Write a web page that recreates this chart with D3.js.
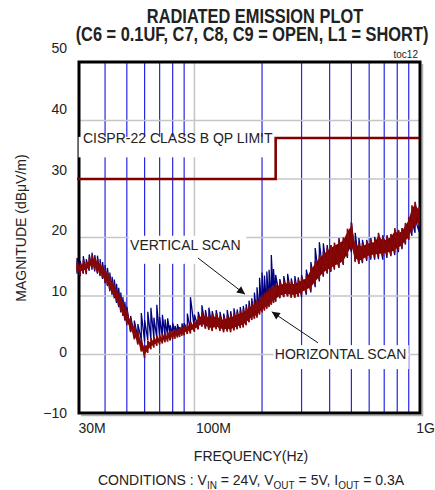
<!DOCTYPE html>
<html>
<head>
<meta charset="utf-8">
<script src="https://cdn.jsdelivr.net/npm/d3@7"></script>
<style>
  body { margin: 0; background: #fff; }
  svg text { font-family: "Liberation Sans", Arial, sans-serif; fill: #222; }
</style>
</head>
<body>
<svg id="chart"></svg>
<script>
// frequency points (MHz) of the two scans
var freqMHz = [30,31,32,33,34,35,36,37,38,39,40,41,42,43,44,45,46,47,48,49,50,52,54,56,58,60,62,64,66,68,70,72,74,76,78,80,82,84,86,88,90,93,96,100,104,108,112,116,120,125,130,135,140,145,150,155,160,165,170,175,180,185,190,195,200,205,210,215,220,225,230,240,250,260,270,280,290,300,315,330,345,360,375,390,405,420,440,460,480,500,520,540,560,585,610,635,660,690,720,750,780,810,840,870,900,930,960,1000];

// horizontal scan, lower / upper edge of the noisy trace (dBuV/m)
var horizLow = [14.2,13.6,14.0,13.9,14.6,14.8,14.5,14.0,13.6,13.1,12.4,11.9,11.0,10.4,9.8,9.0,8.3,7.4,6.8,6.0,5.2,3.9,2.6,1.7,0.5,-0.6,0.3,0.9,1.2,1.5,1.7,1.9,2.1,2.2,2.4,2.6,2.7,2.9,3.0,3.2,3.3,3.5,3.6,3.9,4.3,4.8,4.4,4.2,4.0,4.3,4.0,3.8,3.9,3.8,4.1,4.3,4.5,4.6,5.0,5.5,5.9,6.1,6.3,6.8,7.2,7.5,7.8,8.1,8.5,8.8,9.0,9.6,9.8,9.9,9.7,9.7,9.9,10.2,10.6,11.0,12.0,12.8,13.5,14.0,14.3,14.7,15.0,15.5,16.8,18.0,16.0,15.5,15.8,16.3,16.5,16.6,16.7,16.8,17.0,17.0,17.4,17.8,18.2,19.0,19.6,21.0,21.8,22.0];
var horizHigh = [15.9,15.5,16.1,15.8,16.6,17.0,16.6,16.3,15.6,15.2,14.6,14.1,13.2,12.4,11.9,11.2,10.6,9.9,9.1,8.3,7.6,6.2,5.0,3.9,2.7,1.6,2.4,2.8,3.0,3.2,3.3,3.5,3.6,3.8,4.0,4.1,4.3,4.4,4.6,4.7,4.9,5.2,5.6,5.7,6.6,7.2,7.0,6.8,6.9,7.0,6.6,6.4,6.7,6.9,7.0,7.3,7.5,7.7,8.0,8.5,8.8,9.1,9.3,9.8,10.2,10.6,10.9,11.3,11.6,11.9,12.1,12.4,12.6,12.7,12.5,12.6,12.8,13.2,13.5,15.0,16.0,17.0,17.6,18.2,18.7,19.1,19.5,20.0,21.5,22.5,19.3,19.0,19.0,19.4,19.6,19.7,20.8,20.0,20.2,20.6,21.6,21.2,21.6,22.5,23.5,25.5,26.1,25.2];

// vertical scan, lower / upper edge
var vertLow = [13.8,13.4,13.8,13.7,14.3,14.5,14.2,13.8,13.4,12.9,12.2,11.7,10.8,10.2,9.6,8.8,8.1,7.2,6.6,5.8,5.0,3.8,3.0,2.8,2.5,2.2,2.5,2.6,2.7,2.8,2.9,3.0,3.1,3.2,3.3,3.4,3.5,3.6,3.7,3.8,3.9,4.0,4.1,4.3,4.6,4.8,4.6,4.5,4.4,4.5,4.3,4.1,4.2,4.1,4.3,4.5,4.7,4.8,5.1,5.6,6.0,6.3,6.5,7.0,7.4,7.7,8.0,8.3,8.6,8.9,9.1,9.7,9.9,10.0,9.9,9.8,9.9,9.8,10.2,10.6,11.5,12.5,13.3,13.8,14.1,14.5,14.8,15.3,16.5,17.5,15.8,15.5,15.6,16.0,16.2,16.2,16.3,16.2,16.5,16.8,17.0,17.5,18.0,18.8,19.6,20.3,20.8,21.0];
var vertHigh = [16.5,16.0,16.8,16.3,17.1,17.4,17.0,16.9,16.3,15.8,15.3,14.8,14.0,13.3,12.8,12.1,11.4,10.6,9.8,9.0,8.2,6.6,5.8,5.2,7.1,5.9,7.3,8.0,6.3,8.5,6.4,6.8,6.0,6.2,5.0,5.4,4.9,5.2,4.7,5.3,5.4,7.0,9.8,6.8,7.3,8.4,7.6,8.0,7.4,7.6,7.3,7.0,7.6,7.4,7.9,7.7,8.1,8.3,8.6,9.2,9.6,10.6,11.5,13.1,14.0,13.5,14.2,14.5,17.0,14.6,13.6,12.9,13.4,13.8,13.0,13.4,13.2,13.6,14.5,15.8,18.2,19.2,19.0,18.7,18.7,18.4,19.9,19.6,20.5,22.6,20.8,19.9,19.6,19.6,19.9,20.1,20.3,20.4,20.4,20.4,20.8,21.3,21.6,22.2,22.6,23.0,23.3,22.5];

// CISPR-22 class B quasi-peak limit
var limitFreq = [30, 230, 230, 1000];
var limitDb = [30, 30, 37, 37];

// grid
var blueGridFreq = [40,50,60,70,80,90,200,300,400,500,600,700,800,900];
var grayGridFreq = [100];
var grayGridDb = [0, 10, 20, 30, 40];
var yTicks = [-10, 0, 10, 20, 30, 40, 50];
var xTicks = [30, 100, 1000];
var xTickText = ['30M', '100M', '1G'];

var W = 435, H = 490;
var svg = d3.select('#chart').attr('width', W).attr('height', H);

var x = d3.scaleLog().domain([30, 1000]).range([77, 419]);
var y = d3.scaleLinear().domain([-10, 50]).range([413, 62]);
// tick labels in the scan sit on a slightly taller ladder than the grid
var yLab = d3.scaleLinear().domain([-10, 50]).range([413, 48]);

var plot = { left: 79, right: 420, top: 62, bottom: 413 };

// vertical blue lines
svg.append('g').selectAll('line').data(blueGridFreq).enter().append('line')
  .attr('x1', d => x(d)).attr('x2', d => x(d))
  .attr('y1', plot.top).attr('y2', plot.bottom)
  .attr('stroke', '#2626e6').attr('stroke-width', 1.2);

// gray grid
var gg = svg.append('g').attr('stroke', '#c6c6c6').attr('stroke-width', 1.6);
gg.selectAll('.h').data(grayGridDb).enter().append('line')
  .attr('x1', plot.left).attr('x2', plot.right)
  .attr('y1', d => y(d)).attr('y2', d => y(d));
gg.selectAll('.v').data(grayGridFreq).enter().append('line')
  .attr('x1', d => x(d)).attr('x2', d => x(d))
  .attr('y1', plot.top).attr('y2', plot.bottom);

// frame with light shadow
svg.append('path')
  .attr('d', 'M' + (plot.right + 2.5) + ',' + (plot.top + 2) + 'V' + (plot.bottom + 2.5) + 'H' + (plot.left + 2))
  .attr('fill', 'none').attr('stroke', '#b0b0b0').attr('stroke-width', 1.5);
svg.append('rect')
  .attr('x', plot.left).attr('y', plot.top)
  .attr('width', plot.right - plot.left).attr('height', plot.bottom - plot.top)
  .attr('fill', 'none').attr('stroke', '#000').attr('stroke-width', 3);

// white label boxes that cut the grid
function box(f0, f1, d0, d1) {
  svg.append('rect')
    .attr('x', x(f0)).attr('y', y(d1))
    .attr('width', x(f1) - x(f0)).attr('height', y(d0) - y(d1))
    .attr('fill', '#fff');
}
box(30.5, 226, 33.7, 37.2);
box(51, 170, 15.5, 20.3);
box(225, 900, -2.5, 1.6);

// limit line
var limitData = limitFreq.map((f, i) => ({ f: f, v: limitDb[i] }));
svg.append('path').datum(limitData)
  .attr('d', d3.line().x(d => x(d.f)).y(d => y(d.v)))
  .attr('fill', 'none').attr('stroke', '#800000').attr('stroke-width', 2.6);

// scans: each sweep is drawn as a dense trace jumping between its low and high edge
function zigzag(lo, hi) {
  var pts = [];
  freqMHz.forEach(function(f, i) {
    pts.push({ f: f, v: lo[i] });
    pts.push({ f: f, v: hi[i] });
  });
  return pts;
}
function band(lo, hi) {
  return freqMHz.map((f, i) => ({ f: f, lo: lo[i], hi: hi[i] }));
}
var trace = d3.line().x(d => x(d.f)).y(d => y(d.v));
var area = d3.area().x(d => x(d.f)).y0(d => y(d.lo)).y1(d => y(d.hi));

svg.append('path').datum(zigzag(vertLow, vertHigh))
  .attr('d', trace).attr('fill', 'none')
  .attr('stroke', '#000080').attr('stroke-width', 1.3);

// horizontal scan sits on top
var hLo = horizLow.map(v => v + 0.5), hHi = horizHigh.map(v => v - 0.5);
svg.append('path').datum(band(hLo, hHi))
  .attr('d', area).attr('fill', '#800000');
svg.append('path').datum(zigzag(horizLow, horizHigh))
  .attr('d', trace).attr('fill', 'none')
  .attr('stroke', '#850808').attr('stroke-width', 1.6);

// annotations
svg.append('text').attr('x', x(31.9)).attr('y', y(36.1))
  .attr('font-size', 14).text('CISPR-22 CLASS B QP LIMIT');
svg.append('text').attr('x', x(51.7)).attr('y', y(17.9))
  .attr('font-size', 14).text('VERTICAL SCAN');
svg.append('text').attr('x', x(228)).attr('y', y(-0.7))
  .attr('font-size', 14).text('HORIZONTAL SCAN');

svg.append('defs').append('marker')
  .attr('id', 'head').attr('viewBox', '0 0 10 10')
  .attr('refX', 10).attr('refY', 5)
  .attr('markerWidth', 12).attr('markerHeight', 8)
  .attr('markerUnits', 'userSpaceOnUse')
  .attr('orient', 'auto')
  .append('path').attr('d', 'M0,0L10,5L0,10z').attr('fill', '#111');

var arrows = [
  { f0: 103.7, d0: 16.5, f1: 168, d1: 10.3 },
  { f0: 355, d0: 2.0, f1: 221, d1: 7.3 }
];
svg.append('g').selectAll('line').data(arrows).enter().append('line')
  .attr('x1', d => x(d.f0)).attr('y1', d => y(d.d0))
  .attr('x2', d => x(d.f1)).attr('y2', d => y(d.d1))
  .attr('stroke', '#111').attr('stroke-width', 1)
  .attr('marker-end', 'url(#head)');

// axes labels
var ya = svg.append('g').attr('transform', 'translate(67,0)')
  .call(d3.axisLeft(yLab).tickValues(yTicks).tickSize(0).tickPadding(0).tickFormat(d3.format('d')));
ya.select('.domain').remove();
ya.selectAll('text').attr('font-size', 14).attr('font-family', '"Liberation Sans", Arial, sans-serif').attr('fill', '#222');

var xa = svg.append('g').attr('transform', 'translate(0,' + 423 + ')')
  .call(d3.axisBottom(x).tickValues(xTicks).tickSize(0).tickPadding(0).tickFormat((d, i) => xTickText[i]));
xa.select('.domain').remove();
xa.selectAll('text').attr('font-size', 14).attr('font-family', '"Liberation Sans", Arial, sans-serif').attr('fill', '#222')
  .attr('text-anchor', (d, i) => i < 2 ? 'start' : 'middle')
  .attr('dx', (d, i) => i < 2 ? 1 : 6);

svg.append('text').attr('x', 251).attr('y', 461).attr('text-anchor', 'middle')
  .attr('font-size', 14).text('FREQUENCY(Hz)');

svg.append('text').attr('transform', 'translate(26,228) rotate(-90)')
  .attr('text-anchor', 'middle').attr('font-size', 14).text('MAGNITUDE (dB\u03BCV/m)');

// conditions line with subscripts
var cond = svg.append('text').attr('x', 251).attr('y', 485).attr('text-anchor', 'middle').attr('font-size', 14);
var parts = [['CONDITIONS : V', 0], ['IN', 1], [' = 24V, V', 0], ['OUT', 1], [' = 5V, I', 0], ['OUT', 1], [' = 0.3A', 0]];
var prevSub = 0;
parts.forEach(function(p) {
  var t = cond.append('tspan').text(p[0]);
  var shift = (p[1] - prevSub) * 4;
  if (shift) t.attr('dy', shift);
  if (p[1]) t.attr('font-size', 10);
  prevSub = p[1];
});

// titles: condensed bold, as in the datasheet
function title(cx, base, s) {
  svg.append('g').attr('transform', 'translate(' + cx + ',' + base + ') scale(0.82,1)')
    .append('text').attr('text-anchor', 'middle')
    .attr('font-size', 20).attr('font-weight', 'bold').attr('fill', '#111')
    .text(s);
}
title(255, 23, 'RADIATED EMISSION PLOT');
title(252, 41, '(C6 = 0.1UF, C7, C8, C9 = OPEN, L1 = SHORT)');

svg.append('text').attr('x', 418).attr('y', 58).attr('text-anchor', 'end')
  .attr('font-size', 10).text('toc12');
</script>
</body>
</html>
